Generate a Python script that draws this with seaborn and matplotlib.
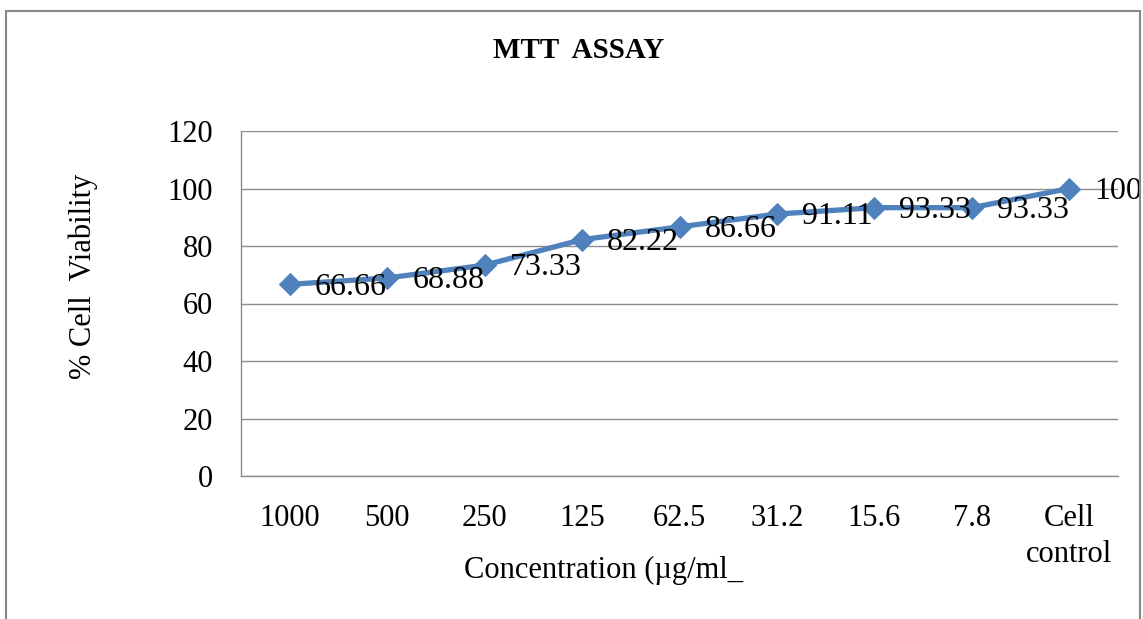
import matplotlib
matplotlib.use("Agg")
import matplotlib.pyplot as plt
import seaborn as sns
from matplotlib.patches import Rectangle

# data
concentrations = ["1000", "500", "250", "125", "62.5", "31.2", "15.6", "7.8", "Cell\ncontrol"]
viability = [66.66, 68.88, 73.33, 82.22, 86.66, 91.11, 93.33, 93.33, 100]
value_labels = ["66.66", "68.88", "73.33", "82.22", "86.66", "91.11", "93.33", "93.33", "100"]
yticks = [0, 20, 40, 60, 80, 100, 120]

sns.set_style("white")
plt.rcParams['font.family'] = ['Liberation Serif', 'DejaVu Serif']
plt.rcParams['text.color'] = 'black'
plt.rcParams['xtick.color'] = 'black'
plt.rcParams['ytick.color'] = 'black'
plt.rcParams['axes.labelcolor'] = 'black'

W, H = 1143, 619
fig = plt.figure(figsize=(W / 100, H / 100), dpi=100)
ax = fig.add_axes([241 / W, 1 - 476 / H, (1118 - 241) / W, (476 - 131) / H])

# outer chart border
fig.patches.append(Rectangle((6 / W, -0.01), (1140 - 6) / W, 1 - 11 / H + 0.01,
                             transform=fig.transFigure, fill=False,
                             edgecolor="#888888", linewidth=1.5))

xs = list(range(len(concentrations)))
sns.lineplot(x=xs, y=viability, ax=ax, color="#4F81BD", linewidth=3.8,
             marker="D", markersize=11, markeredgecolor="#4F81BD", sort=False)

for x, y, lab in zip(xs, viability, value_labels):
    ax.annotate(lab, (x, y), xytext=(18, -2), textcoords="offset points",
                ha="left", va="center", fontsize=23, color="black")

ax.set_xlim(-0.5, len(concentrations) - 0.5)
ax.set_ylim(0, 120)
ax.set_yticks(yticks)
ax.set_xticks(xs)
ax.set_xticklabels(concentrations, fontsize=22, linespacing=1.35)
ax.tick_params(axis="x", length=0, pad=20)
ax.tick_params(axis="y", length=0, pad=20, labelsize=22)
ax.yaxis.grid(True, color="#8c8c8c", linewidth=1)
ax.set_axisbelow(True)
for side in ["top", "right"]:
    ax.spines[side].set_visible(False)
for side in ["left", "bottom"]:
    ax.spines[side].set_color("#8c8c8c")
    ax.spines[side].set_linewidth(1)

ax.set_xlabel("Concentration (\u00b5g/ml_", fontsize=22, va="center")
ax.xaxis.set_label_coords((604 - 241) / (1118 - 241), -(570 - 476) / (476 - 131))
ax.set_ylabel("% Cell  Viability", fontsize=22, va="center")
ax.yaxis.set_label_coords(-(241 - 83) / (1118 - 241), (476 - 276) / (476 - 131))

fig.text(579 / W, 1 - 50 / H, "MTT  ASSAY", ha="center", va="center",
         fontsize=21, fontweight="bold")

fig.savefig("out.png", dpi=100)
